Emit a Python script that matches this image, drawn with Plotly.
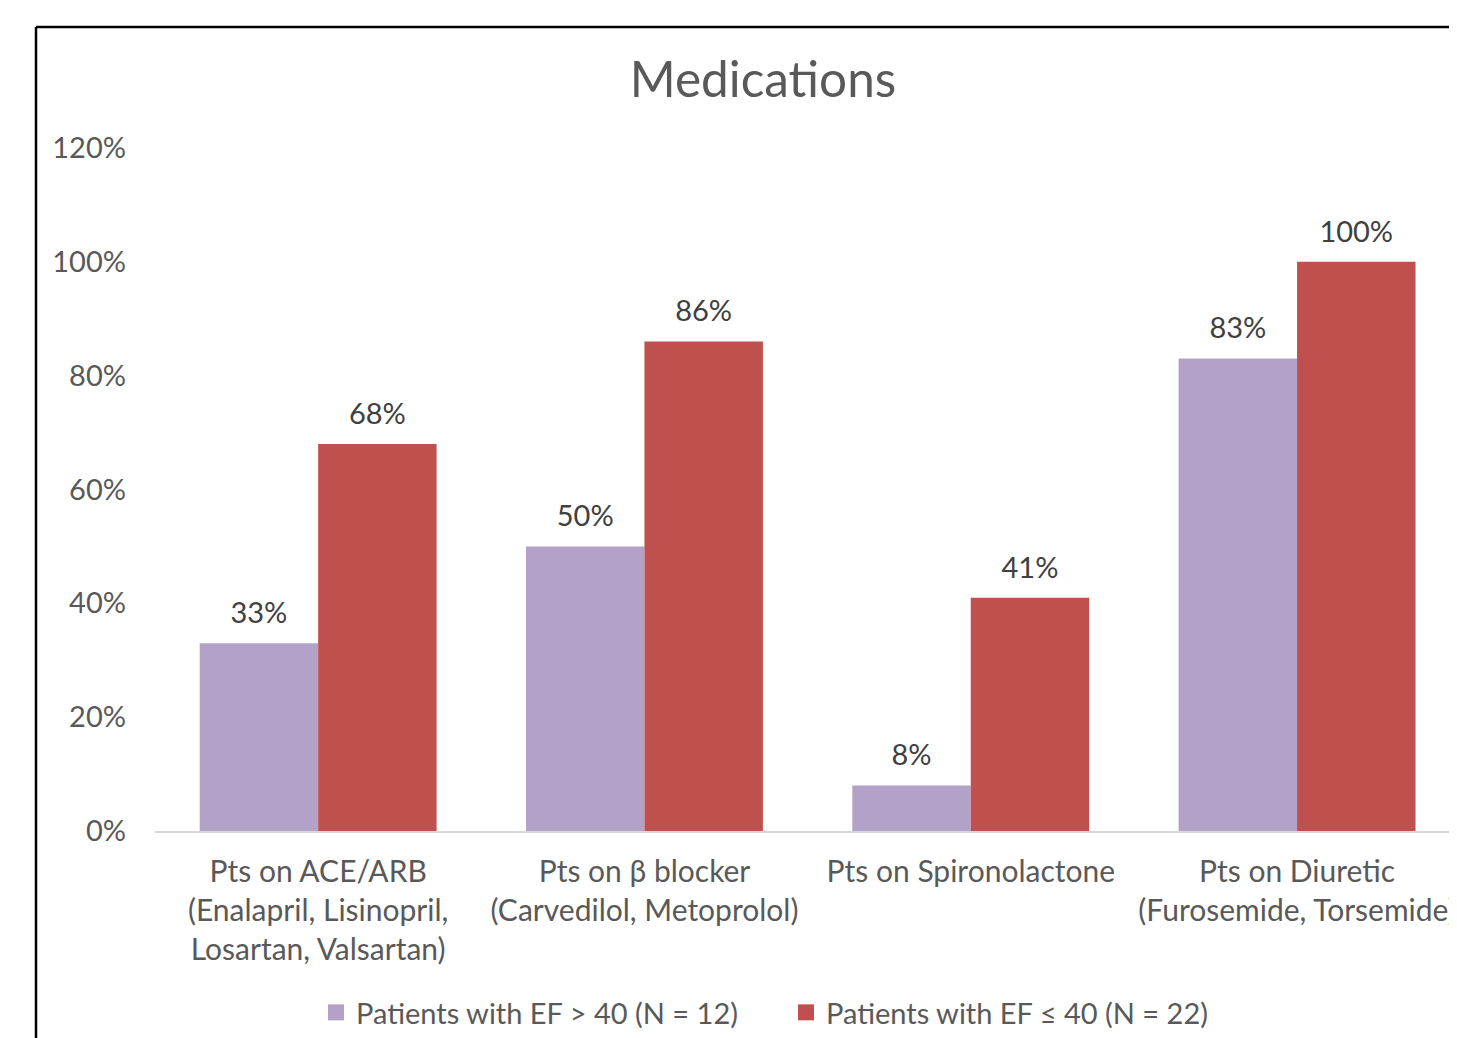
import plotly.graph_objects as go

categories = [
    "Pts on ACE/ARB<br>(Enalapril, Lisinopril,<br>Losartan, Valsartan)",
    "Pts on β blocker<br>(Carvedilol, Metoprolol)",
    "Pts on Spironolactone",
    "Pts on Diuretic<br>(Furosemide, Torsemide)",
]
series_names = ["Patients with EF > 40 (N = 12)", "Patients with EF ≤ 40 (N = 22)"]
ef_above_40 = [0.33, 0.50, 0.08, 0.83]
ef_below_40 = [0.68, 0.86, 0.41, 1.00]
y_ticks = [0, 0.2, 0.4, 0.6, 0.8, 1.0, 1.2]
y_tick_labels = ["0%", "20%", "40%", "60%", "80%", "100%", "120%"]

colors = ["#B3A2C7", "#C0504D"]
FONT = "Lato, Carlito, Calibri, sans-serif"
OFF = 8  # page body margin
W, H = 1457 - OFF, 1038 - OFF
L, R, T = 155 - OFF, 0, 148 - OFF
B = H - (831 - OFF)
PW, PH = W - L - R, H - T - B
BARGAP = 0.274
CAT_PX = 326.3


def px_x(px):
    return (px - OFF - L) / PW


def px_y(py):
    return (H - B - (py - OFF)) / PH


fig = go.Figure()
xs = list(range(len(categories)))
for name, vals, col, grp in zip(series_names, [ef_above_40, ef_below_40], colors, ["a", "b"]):
    fig.add_trace(go.Bar(
        x=xs, y=vals, name=name, offsetgroup=grp, showlegend=False,
        marker=dict(color=col, line=dict(width=0)), hoverinfo="skip",
    ))
for name, vals, grp in zip(series_names, [ef_above_40, ef_below_40], ["a", "b"]):
    fig.add_trace(go.Scatter(
        x=xs, y=vals, offsetgroup=grp, mode="markers+text", showlegend=False,
        marker=dict(size=19, opacity=0), texttemplate="%{y:.0%}", textposition="top center",
        textfont=dict(family=FONT, size=29, color="#404040"), cliponaxis=False,
        hoverinfo="skip",
    ))
# legend entries with larger square symbols
for name, col in zip(series_names, colors):
    fig.add_trace(go.Scatter(
        x=[None], y=[None], name=name, mode="markers",
        marker=dict(symbol="square", size=18, color=col), showlegend=True,
    ))

fig.add_shape(type="line", xref="paper", yref="paper",
              x0=px_x(36), x1=px_x(1500), y0=px_y(27), y1=px_y(27),
              line=dict(color="black", width=2.5))
fig.add_shape(type="line", xref="paper", yref="paper",
              x0=px_x(36), x1=px_x(36), y0=px_y(27), y1=px_y(1060),
              line=dict(color="black", width=2.5))

span = PW / CAT_PX
fig.update_layout(
    width=W, height=H,
    margin=dict(l=L, r=R, t=T, b=B, pad=0),
    paper_bgcolor="white", plot_bgcolor="white",
    barmode="group", bargap=BARGAP, bargroupgap=0,
    scattermode="group", scattergap=BARGAP,
    title=dict(text="Medications", x=(763 - OFF) / W, xanchor="center",
               y=1 - (80 - OFF) / H, yanchor="middle",
               font=dict(family=FONT, size=49.5, color="#595959")),
    xaxis=dict(tickmode="array", tickvals=xs, ticktext=categories,
               range=[-0.5, -0.5 + span], showgrid=False, zeroline=False,
               showline=True, linecolor="#D9D9D9", linewidth=2, ticks="",
               tickfont=dict(family=FONT, size=30, color="#595959"),
               ticklabelstandoff=13),
    yaxis=dict(range=[0, 1.2], tickvals=y_ticks, ticktext=y_tick_labels,
               showgrid=False, zeroline=False, showline=False, ticks="",
               tickfont=dict(family=FONT, size=29, color="#595959"),
               ticklabelstandoff=28),
    legend=dict(orientation="h", x=px_x(786), xanchor="center", y=px_y(1013), yanchor="middle",
                font=dict(family=FONT, size=29, color="#595959"),
                itemsizing="trace", traceorder="normal", bgcolor="rgba(0,0,0,0)",
                entrywidth=425),
    showlegend=True,
)

fig.write_html("out.html")
